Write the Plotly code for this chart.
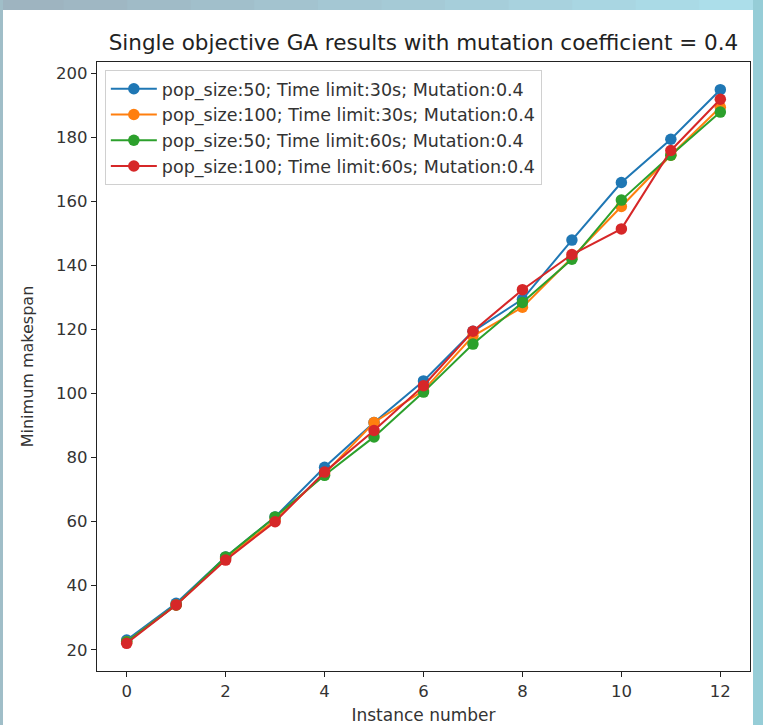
import plotly.graph_objects as go

instances = list(range(13))
names = [
    "pop_size:50; Time limit:30s; Mutation:0.4",
    "pop_size:100; Time limit:30s; Mutation:0.4",
    "pop_size:50; Time limit:60s; Mutation:0.4",
    "pop_size:100; Time limit:60s; Mutation:0.4",
]
blue = [23, 34.5, 49, 61.5, 77, 91, 104, 119.5, 129.5, 148, 166, 179.5, 195]
orange = [22.5, 34, 48.5, 60.5, 75, 91, 101, 118, 127, 142.5, 158.5, 174.5, 189.5]
green = [22.5, 34, 49, 61.5, 74.5, 86.5, 100.5, 115.5, 128.5, 142, 160.5, 174.5, 188]
red = [22, 34, 48, 60, 75.5, 88.5, 102.5, 119.5, 132.5, 143.5, 151.5, 176, 192]
series = [blue, orange, green, red]
colors = ["#1f77b4", "#ff7f0e", "#2ca02c", "#d62728"]
xticks = [0, 2, 4, 6, 8, 10, 12]
yticks = [20, 40, 60, 80, 100, 120, 140, 160, 180, 200]

W, H = 763, 725
L, R, T, B = 97, 750, 62, 671

fig = go.Figure()
for name, ys, c in zip(names, series, colors):
    fig.add_trace(go.Scatter(
        x=instances, y=ys, name=name, mode="lines+markers",
        line=dict(color=c, width=2),
        marker=dict(color=c, size=11.5),
    ))

allv = [v for s in series for v in s]
lo, hi = min(allv), max(allv)
pad = 0.05 * (hi - lo)
xpad = 0.05 * (max(instances) - min(instances))

font = "DejaVu Sans, Verdana, sans-serif"
axis_common = dict(
    showline=True, linecolor="#222", linewidth=1.2, mirror=True,
    ticks="outside", ticklen=5, tickcolor="#222", tickwidth=1.2,
    showgrid=False, zeroline=False, automargin=False,
    tickfont=dict(family=font, size=16.5, color="#333"),
)

fig.update_layout(
    width=W, height=H, autosize=False,
    margin=dict(l=L, r=W - R, t=T, b=H - B),
    paper_bgcolor="white", plot_bgcolor="white",
    font=dict(family=font, color="#333"),
    title=dict(
        text="Single objective GA results with mutation coefficient = 0.4",
        x=0.5, xref="paper", xanchor="center",
        y=1 - 42 / H, yref="container", yanchor="middle",
        font=dict(family=font, size=21.5, color="#222"),
        automargin=False,
    ),
    xaxis=dict(
        range=[min(instances) - xpad, max(instances) + xpad],
        tickvals=xticks,
        title=dict(text="Instance number", font=dict(family=font, size=17, color="#333"), standoff=12),
        **axis_common,
    ),
    yaxis=dict(
        range=[lo - pad, hi + pad],
        tickvals=yticks,
        title=dict(text="Minimum makespan", font=dict(family=font, size=16, color="#333"), standoff=18),
        **axis_common,
    ),
    legend=dict(
        x=0.012, y=0.987, xanchor="left", yanchor="top",
        bgcolor="rgba(255,255,255,0.85)", bordercolor="#d0d0d0", borderwidth=1,
        font=dict(family=font, size=17.5, color="#333"),
        tracegroupgap=0, itemwidth=46,
    ),
    showlegend=True,
)

# screenshot frame: gradient strip on top, strips on left/right edges
def px_x(p):
    return (p - L) / (R - L)

def px_y(p):
    return (B - p) / (B - T)

n = 12
c0 = (158, 180, 192)
c1 = (172, 222, 234)
for i in range(n):
    t = i / (n - 1)
    col = tuple(int(c0[k] + (c1[k] - c0[k]) * t) for k in range(3))
    fig.add_shape(type="rect", xref="paper", yref="paper",
                  x0=px_x(i * W / n), x1=px_x((i + 1) * W / n + 1),
                  y0=px_y(10), y1=px_y(0),
                  fillcolor="rgb(%d,%d,%d)" % col, line=dict(width=0), layer="above")
fig.add_shape(type="rect", xref="paper", yref="paper",
              x0=px_x(753), x1=px_x(W), y0=px_y(H), y1=px_y(0),
              fillcolor="rgb(150,205,215)", line=dict(width=0), layer="above")
fig.add_shape(type="rect", xref="paper", yref="paper",
              x0=px_x(0), x1=px_x(3), y0=px_y(H), y1=px_y(0),
              fillcolor="rgb(160,190,200)", line=dict(width=0), layer="above")

fig.write_html(
    "out.html",
    config={"displayModeBar": False, "responsive": False},
    post_script="document.body.style.margin='0px';",
)
